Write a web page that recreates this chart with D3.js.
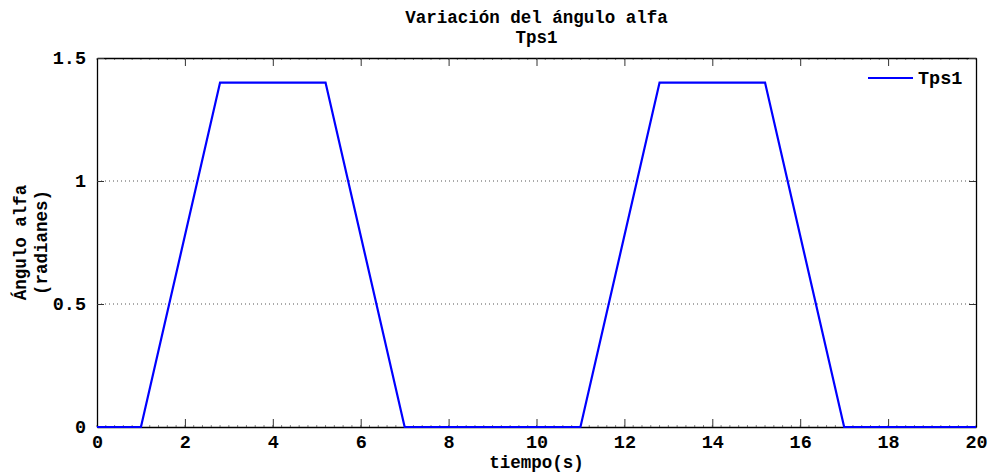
<!DOCTYPE html>
<html>
<head>
<meta charset="utf-8">
<script src="https://cdn.jsdelivr.net/npm/d3@7"></script>
<style>
  body { margin: 0; background: #fff; }
  text { font-family: "Liberation Mono", "DejaVu Sans Mono", monospace; font-weight: bold; fill: #000; }
</style>
</head>
<body>
<div id="chart"></div>
<script>
// data
var tiempo = [0, 1, 2.8, 5.2, 7, 11, 12.8, 15.2, 17, 20];
var alfa   = [0, 0, 1.4, 1.4, 0, 0,  1.4,  1.4,  0,  0];
var xTicks = [0, 2, 4, 6, 8, 10, 12, 14, 16, 18, 20];
var yTicks = [0, 0.5, 1, 1.5];
var yTickLabels = ["0", "0.5", "1", "1.5"];
var serieName = "Tps1";

var W = 990, H = 472;
var margin = { top: 58, right: 14, bottom: 45, left: 97 },
    width = W - margin.left - margin.right,
    height = H - margin.top - margin.bottom;

var svg = d3.select("#chart").append("svg")
    .attr("width", W)
    .attr("height", H);

var g = svg.append("g")
    .attr("transform", "translate(" + margin.left + "," + margin.top + ")");

var x = d3.scaleLinear().domain([0, 20]).range([0, width]);
var y = d3.scaleLinear().domain([0, 1.5]).range([height, 0]);

// dotted horizontal grid
g.selectAll(".grid")
    .data(yTicks.filter(function(d) { return d > 0 && d < 1.5; }))
    .enter().append("line")
    .attr("x1", 0).attr("x2", width)
    .attr("y1", function(d) { return y(d); })
    .attr("y2", function(d) { return y(d); })
    .style("stroke", "#555")
    .style("stroke-width", 1)
    .style("stroke-dasharray", "1,3");

// minor ticks on top and bottom
var minor = d3.range(0, 20.001, 0.2);
g.selectAll(".minB").data(minor).enter().append("line")
    .attr("x1", function(d) { return x(d); }).attr("x2", function(d) { return x(d); })
    .attr("y1", height).attr("y2", height - 2)
    .style("stroke", "#666").style("stroke-width", 0.8);
g.selectAll(".minT").data(minor).enter().append("line")
    .attr("x1", function(d) { return x(d); }).attr("x2", function(d) { return x(d); })
    .attr("y1", 0).attr("y2", 2)
    .style("stroke", "#666").style("stroke-width", 0.8);

// bottom axis
var xAxis = g.append("g")
    .attr("transform", "translate(0," + height + ")")
    .call(d3.axisBottom(x).tickValues(xTicks).tickFormat(d3.format("d"))
        .tickSizeInner(-8).tickSizeOuter(0).tickPadding(8));
// top axis
var xAxisTop = g.append("g")
    .call(d3.axisTop(x).tickValues(xTicks).tickFormat("")
        .tickSizeInner(-8).tickSizeOuter(0));
// left axis
var yAxis = g.append("g")
    .call(d3.axisLeft(y).tickValues(yTicks)
        .tickFormat(function(d, i) { return yTickLabels[i]; })
        .tickSizeInner(-7).tickSizeOuter(0).tickPadding(11));
// right axis
var yAxisRight = g.append("g")
    .attr("transform", "translate(" + width + ",0)")
    .call(d3.axisRight(y).tickValues(yTicks).tickFormat("")
        .tickSizeInner(-7).tickSizeOuter(0));

[xAxis, xAxisTop, yAxis, yAxisRight].forEach(function(a) {
    a.select(".domain").style("stroke", "#000").style("stroke-width", 1.3);
    a.selectAll(".tick line").style("stroke", "#333");
    a.selectAll("text")
        .style("font-family", "Liberation Mono")
        .style("font-weight", "bold")
        .style("font-size", "18.5px")
        .style("fill", "#000");
});

// the series
var line = d3.line()
    .x(function(d, i) { return x(tiempo[i]); })
    .y(function(d) { return y(d); });

g.append("path")
    .datum(alfa)
    .attr("d", line)
    .style("fill", "none")
    .style("stroke", "#0000ff")
    .style("stroke-width", 2.2)
    .style("stroke-linejoin", "miter");

// legend
g.append("line")
    .attr("x1", 771).attr("x2", 816)
    .attr("y1", 20).attr("y2", 20)
    .style("stroke", "#0000ff").style("stroke-width", 2.2);
g.append("text")
    .attr("x", 821).attr("y", 26)
    .style("font-size", "18.5px")
    .text(serieName);

// title
svg.append("text")
    .attr("x", margin.left + width / 2).attr("y", 23)
    .attr("text-anchor", "middle")
    .style("font-size", "17.5px")
    .text("Variación del ángulo alfa");
svg.append("text")
    .attr("x", margin.left + width / 2).attr("y", 43)
    .attr("text-anchor", "middle")
    .style("font-size", "17.5px")
    .text("Tps1");

// axis titles
svg.append("text")
    .attr("x", margin.left + width / 2).attr("y", 468)
    .attr("text-anchor", "middle")
    .style("font-size", "17.5px")
    .text("tiempo(s)");
svg.append("text")
    .attr("transform", "translate(26," + (margin.top + height / 2) + ") rotate(-90)")
    .attr("text-anchor", "middle")
    .style("font-size", "17.5px")
    .text("Ángulo alfa");
svg.append("text")
    .attr("transform", "translate(47," + (margin.top + height / 2) + ") rotate(-90)")
    .attr("text-anchor", "middle")
    .style("font-size", "17.5px")
    .text("(radianes)");
</script>
</body>
</html>
